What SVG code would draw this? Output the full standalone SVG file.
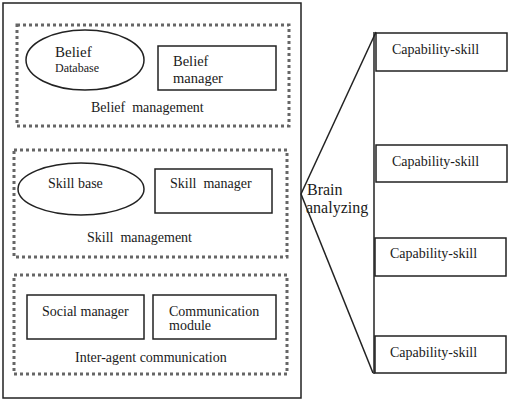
<svg xmlns="http://www.w3.org/2000/svg" width="513" height="406" viewBox="0 0 513 406">
<style>
text{font-family:'Liberation Serif','Times New Roman',Times,serif;fill:#1a1a1a;white-space:pre}
.box{fill:none;stroke:#222;stroke-width:1.5}
.dot{fill:none;stroke:#666;stroke-width:3;stroke-dasharray:3 3}
.ln{fill:none;stroke:#222;stroke-width:1.5}
</style>
<rect width="513" height="406" fill="#fff"/>
<g id="agent">
<rect class="box" x="3" y="3" width="298" height="395"/>
</g>
<g id="belief-management">
<rect class="dot" x="17" y="25" width="272" height="101"/>
<text x="91" y="112" font-size="14">Belief  management</text>
</g>
<g id="belief-database">
<ellipse class="box" cx="85" cy="60" rx="59" ry="30"/>
<text x="55" y="57" font-size="15">Belief</text>
<text x="55" y="72" font-size="12">Database</text>
</g>
<g id="belief-manager">
<rect class="box" x="158" y="46" width="118" height="44"/>
<text x="173" y="66" font-size="14.5">Belief</text>
<text x="173" y="83" font-size="14.5">manager</text>
</g>
<g id="skill-management">
<rect class="dot" x="14" y="150" width="273" height="107"/>
<text x="87" y="242" font-size="14">Skill  management</text>
</g>
<g id="skill-base">
<ellipse class="box" cx="81" cy="189" rx="63" ry="26"/>
<text x="48" y="188" font-size="14">Skill base</text>
</g>
<g id="skill-manager">
<rect class="box" x="155" y="169" width="117" height="44"/>
<text x="170" y="188" font-size="14">Skill  manager</text>
</g>
<g id="inter-agent-communication">
<rect class="dot" x="14" y="275" width="273" height="99"/>
<text x="75" y="362" font-size="14">Inter-agent communication</text>
</g>
<g id="social-manager">
<rect class="box" x="27" y="295" width="117" height="44"/>
<text x="42" y="316" font-size="14">Social manager</text>
</g>
<g id="communication-module">
<rect class="box" x="153" y="295" width="123" height="44"/>
<text x="169" y="316" font-size="14">Communication</text>
<text x="169" y="330" font-size="14">module</text>
</g>
<g id="brain-analyzing">
<text x="307" y="195" font-size="16">Brain</text>
<text x="306" y="213" font-size="16">analyzing</text>
</g>
<g id="connectors">
<line class="ln" x1="301" y1="194" x2="376" y2="32"/>
<line class="ln" x1="301" y1="194" x2="373" y2="373"/>
<line class="ln" x1="374" y1="32" x2="374" y2="374"/>
</g>
<g id="cap1">
<rect class="box" x="376" y="33" width="131" height="38"/>
<text x="392" y="54" font-size="14">Capability-skill</text>
</g>
<g id="cap2">
<rect class="box" x="376" y="145" width="131" height="37"/>
<text x="392" y="166" font-size="14">Capability-skill</text>
</g>
<g id="cap3">
<rect class="box" x="375" y="238" width="131" height="38"/>
<text x="390" y="258" font-size="14">Capability-skill</text>
</g>
<g id="cap4">
<rect class="box" x="375" y="336" width="131" height="37"/>
<text x="390" y="357" font-size="14">Capability-skill</text>
</g>
</svg>
